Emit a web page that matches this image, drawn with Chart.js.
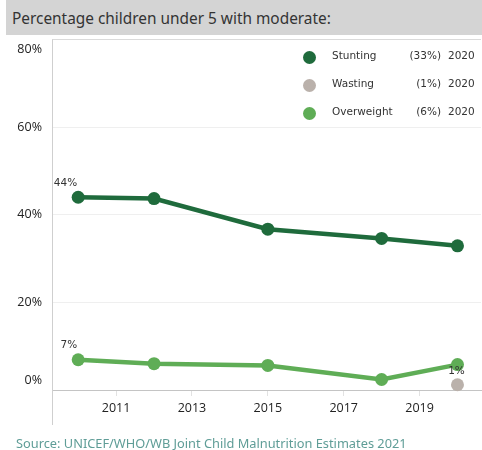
<!DOCTYPE html>
<html>
<head>
<meta charset="utf-8">
<script src="https://cdn.jsdelivr.net/npm/chart.js@4"></script>
<style>
  html, body { margin:0; padding:0; background:#fff; }
  #wrap { position:relative; width:482px; height:450px; overflow:hidden; }
  #chart { position:absolute; left:0; top:0; }
  #titlebar { position:absolute; left:6px; top:0; width:476px; height:35px; background:#d4d4d4; }
  #title { position:absolute; left:12px; top:8px; font:15.4px "Noto Sans", sans-serif; color:#333; white-space:nowrap; }
  #source { position:absolute; left:16px; top:436px; font:12.8px "Noto Sans", sans-serif; line-height:14px; color:#5f9d97; white-space:nowrap; }
  .lg { position:absolute; font:10.5px "DejaVu Sans", sans-serif; color:#333; white-space:nowrap; line-height:14px; }
  .dot { position:absolute; width:13px; height:13px; border-radius:50%; }
</style>
</head>
<body>
<div id="wrap">
  <canvas id="chart" width="482" height="450"></canvas>
  <div id="titlebar"></div>
  <div id="title">Percentage children under 5 with moderate:</div>
  <div id="legend"></div>
  <div id="source">Source: UNICEF/WHO/WB Joint Child Malnutrition Estimates 2021</div>
</div>
<script>
// ---- data ----
const stuntingYears = [2010, 2012, 2015, 2018, 2020];
const stuntingValues = [44.0, 43.7, 36.7, 34.6, 32.9];
const overweightYears = [2010, 2012, 2015, 2018, 2020];
const overweightValues = [6.9, 6.0, 5.6, 2.4, 5.8];
const wastingYears = [2020];
const wastingValues = [1.2];
const seriesNames = ['Stunting', 'Wasting', 'Overweight'];
const xTickYears = [2011, 2013, 2015, 2017, 2019];
const yTickValues = [0, 20, 40, 60, 80];
const yTickLabels = ['0%', '20%', '40%', '60%', '80%'];

const colors = { Stunting: '#1f6b3c', Wasting: '#bab1ab', Overweight: '#5fad56' };

function pts(xs, ys) { return xs.map((x, i) => ({ x: x, y: ys[i] })); }

const seriesData = {
  Stunting: { xs: stuntingYears, ys: stuntingValues },
  Wasting: { xs: wastingYears, ys: wastingValues },
  Overweight: { xs: overweightYears, ys: overweightValues }
};

// ---- legend (HTML) ----
const legend = document.getElementById('legend');
const rowY = [57, 85, 113];
seriesNames.forEach((name, i) => {
  const s = seriesData[name];
  const lastVal = Math.round(s.ys[s.ys.length - 1]);
  const lastYear = s.xs[s.xs.length - 1];
  const d = document.createElement('div');
  d.className = 'dot';
  d.style.left = (309 - 6.5) + 'px';
  d.style.top = (rowY[i] - 6.5) + 'px';
  d.style.background = colors[name];
  legend.appendChild(d);
  const n = document.createElement('div');
  n.className = 'lg';
  n.style.left = '332px'; n.style.top = (rowY[i] - 9) + 'px';
  n.textContent = name;
  legend.appendChild(n);
  const v = document.createElement('div');
  v.className = 'lg';
  v.style.right = (482 - 441) + 'px'; v.style.top = (rowY[i] - 9) + 'px';
  v.textContent = '(' + lastVal + '%)';
  legend.appendChild(v);
  const y = document.createElement('div');
  y.className = 'lg';
  y.style.left = '448px'; y.style.top = (rowY[i] - 9) + 'px';
  y.textContent = String(lastYear);
  legend.appendChild(y);
});

// ---- plugins ----
const frame = {
  id: 'frame',
  beforeDatasetsDraw(chart) {
    const ctx = chart.ctx, a = chart.chartArea;
    ctx.save();
    ctx.strokeStyle = '#cfcfcf';
    ctx.lineWidth = 1;
    ctx.beginPath();
    ctx.moveTo(Math.round(a.left) + 0.5, a.top);
    ctx.lineTo(Math.round(a.left) + 0.5, 425);
    ctx.stroke();
    ctx.restore();
  }
};

const dataLabels = {
  id: 'dataLabels',
  afterDatasetsDraw(chart) {
    const ctx = chart.ctx;
    const xs = chart.scales.x, ys = chart.scales.y;
    ctx.save();
    ctx.font = '10.5px "DejaVu Sans", sans-serif';
    ctx.fillStyle = '#333';
    ctx.textBaseline = 'middle';
    let px = xs.getPixelForValue(stuntingYears[0]), py = ys.getPixelForValue(stuntingValues[0]);
    ctx.textAlign = 'right';
    ctx.fillText(Math.round(stuntingValues[0]) + '%', px - 1, py - 14);
    px = xs.getPixelForValue(overweightYears[0]); py = ys.getPixelForValue(overweightValues[0]);
    ctx.fillText(Math.round(overweightValues[0]) + '%', px - 1, py - 15);
    px = xs.getPixelForValue(wastingYears[0]); py = ys.getPixelForValue(wastingValues[0]);
    ctx.textAlign = 'center';
    ctx.fillText(Math.round(wastingValues[0]) + '%', px - 1, py - 13);
    ctx.restore();
  }
};

// ---- chart ----
const common = { pointRadius: 6.5, pointHoverRadius: 6.5, borderWidth: 4.5, pointBorderWidth: 0, clip: false };
new Chart(document.getElementById('chart'), {
  type: 'line',
  data: {
    datasets: [
      Object.assign({ label: 'Wasting', data: pts(wastingYears, wastingValues), borderColor: colors.Wasting, backgroundColor: colors.Wasting }, common),
      Object.assign({ label: 'Overweight', data: pts(overweightYears, overweightValues), borderColor: colors.Overweight, backgroundColor: colors.Overweight }, common),
      Object.assign({ label: 'Stunting', data: pts(stuntingYears, stuntingValues), borderColor: colors.Stunting, backgroundColor: colors.Stunting }, common)
    ]
  },
  options: {
    responsive: false,
    animation: false,
    layout: { autoPadding: false, padding: { top: 39.5, right: 1, bottom: 25, left: 0 } },
    plugins: { legend: { display: false }, tooltip: { enabled: false }, title: { display: false } },
    scales: {
      x: {
        type: 'linear',
        min: 2009.31,
        max: 2020.62,
        afterBuildTicks(s) { s.ticks = xTickYears.map(v => ({ value: v })); },
        afterFit(s) { s.height = 35; },
        ticks: { color: '#222', font: { family: 'Open Sans', size: 12.5 }, padding: 5, maxRotation: 0, callback: v => String(v) },
        grid: { drawOnChartArea: false, drawTicks: true, tickLength: 6, tickColor: '#e2e2e2' },
        border: { display: true, color: '#c4c4c4', dash: [2, 2], width: 1 }
      },
      y: {
        min: 0,
        max: 80,
        afterBuildTicks(s) { s.ticks = yTickValues.map(v => ({ value: v })); },
        afterFit(s) { s.width = 52; },
        ticks: {
          color: '#222',
          padding: 10,
          font: { family: 'Open Sans', size: 12.5, lineHeight: 1.55 },
          callback: (v) => {
            const lbl = yTickLabels[yTickValues.indexOf(v)];
            if (v === yTickValues[yTickValues.length - 1]) return ['', lbl];
            if (v === yTickValues[0]) return [lbl, ''];
            return lbl;
          }
        },
        grid: {
          drawTicks: false,
          color: (c) => c.tick && c.tick.value === 80 ? '#dadada' : (c.tick && c.tick.value === 0 ? 'rgba(0,0,0,0)' : '#efefef'),
          lineWidth: 1
        },
        border: { display: false }
      }
    }
  },
  plugins: [frame, dataLabels]
});
</script>
</body>
</html>
